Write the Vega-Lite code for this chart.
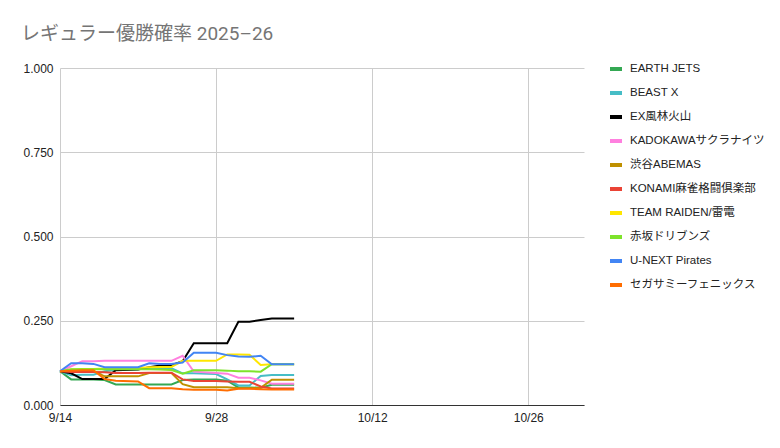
{
  "$schema": "https://vega.github.io/schema/vega-lite/v6.json",
  "width": 524,
  "height": 337,
  "autosize": "none",
  "padding": {"left": 60, "top": 68, "right": 196, "bottom": 43},
  "background": "white",
  "title": {
    "text": "レギュラー優勝確率 2025–26",
    "anchor": "start",
    "frame": "group",
    "dx": -39,
    "offset": 17,
    "fontSize": 19,
    "fontWeight": "normal",
    "font": "Roboto, Noto Sans CJK JP, sans-serif",
    "color": "#757575"
  },
  "data": {
    "format": {"parse": {"d": "date"}},
    "values": [
      {"d": "2025/09/14", "t": "EARTH JETS", "p": 0.100},
      {"d": "2025/09/15", "t": "EARTH JETS", "p": 0.076},
      {"d": "2025/09/16", "t": "EARTH JETS", "p": 0.076},
      {"d": "2025/09/17", "t": "EARTH JETS", "p": 0.076},
      {"d": "2025/09/18", "t": "EARTH JETS", "p": 0.074},
      {"d": "2025/09/19", "t": "EARTH JETS", "p": 0.061},
      {"d": "2025/09/21", "t": "EARTH JETS", "p": 0.061},
      {"d": "2025/09/22", "t": "EARTH JETS", "p": 0.061},
      {"d": "2025/09/23", "t": "EARTH JETS", "p": 0.061},
      {"d": "2025/09/24", "t": "EARTH JETS", "p": 0.061},
      {"d": "2025/09/25", "t": "EARTH JETS", "p": 0.074},
      {"d": "2025/09/26", "t": "EARTH JETS", "p": 0.076},
      {"d": "2025/09/28", "t": "EARTH JETS", "p": 0.076},
      {"d": "2025/09/29", "t": "EARTH JETS", "p": 0.072},
      {"d": "2025/09/30", "t": "EARTH JETS", "p": 0.052},
      {"d": "2025/10/01", "t": "EARTH JETS", "p": 0.052},
      {"d": "2025/10/02", "t": "EARTH JETS", "p": 0.051},
      {"d": "2025/10/03", "t": "EARTH JETS", "p": 0.060},
      {"d": "2025/10/05", "t": "EARTH JETS", "p": 0.060},

      {"d": "2025/09/14", "t": "BEAST X", "p": 0.100},
      {"d": "2025/09/15", "t": "BEAST X", "p": 0.088},
      {"d": "2025/09/16", "t": "BEAST X", "p": 0.090},
      {"d": "2025/09/17", "t": "BEAST X", "p": 0.090},
      {"d": "2025/09/18", "t": "BEAST X", "p": 0.100},
      {"d": "2025/09/19", "t": "BEAST X", "p": 0.104},
      {"d": "2025/09/21", "t": "BEAST X", "p": 0.106},
      {"d": "2025/09/22", "t": "BEAST X", "p": 0.109},
      {"d": "2025/09/23", "t": "BEAST X", "p": 0.109},
      {"d": "2025/09/24", "t": "BEAST X", "p": 0.109},
      {"d": "2025/09/25", "t": "BEAST X", "p": 0.094},
      {"d": "2025/09/26", "t": "BEAST X", "p": 0.094},
      {"d": "2025/09/28", "t": "BEAST X", "p": 0.092},
      {"d": "2025/09/29", "t": "BEAST X", "p": 0.076},
      {"d": "2025/09/30", "t": "BEAST X", "p": 0.058},
      {"d": "2025/10/01", "t": "BEAST X", "p": 0.058},
      {"d": "2025/10/02", "t": "BEAST X", "p": 0.086},
      {"d": "2025/10/03", "t": "BEAST X", "p": 0.089},
      {"d": "2025/10/05", "t": "BEAST X", "p": 0.089},

      {"d": "2025/09/14", "t": "EX風林火山", "p": 0.100},
      {"d": "2025/09/15", "t": "EX風林火山", "p": 0.094},
      {"d": "2025/09/16", "t": "EX風林火山", "p": 0.077},
      {"d": "2025/09/17", "t": "EX風林火山", "p": 0.077},
      {"d": "2025/09/18", "t": "EX風林火山", "p": 0.077},
      {"d": "2025/09/19", "t": "EX風林火山", "p": 0.103},
      {"d": "2025/09/21", "t": "EX風林火山", "p": 0.105},
      {"d": "2025/09/22", "t": "EX風林火山", "p": 0.112},
      {"d": "2025/09/23", "t": "EX風林火山", "p": 0.117},
      {"d": "2025/09/24", "t": "EX風林火山", "p": 0.118},
      {"d": "2025/09/25", "t": "EX風林火山", "p": 0.130},
      {"d": "2025/09/26", "t": "EX風林火山", "p": 0.183},
      {"d": "2025/09/28", "t": "EX風林火山", "p": 0.183},
      {"d": "2025/09/29", "t": "EX風林火山", "p": 0.183},
      {"d": "2025/09/30", "t": "EX風林火山", "p": 0.247},
      {"d": "2025/10/01", "t": "EX風林火山", "p": 0.247},
      {"d": "2025/10/02", "t": "EX風林火山", "p": 0.252},
      {"d": "2025/10/03", "t": "EX風林火山", "p": 0.257},
      {"d": "2025/10/05", "t": "EX風林火山", "p": 0.257},

      {"d": "2025/09/14", "t": "KADOKAWAサクラナイツ", "p": 0.100},
      {"d": "2025/09/15", "t": "KADOKAWAサクラナイツ", "p": 0.115},
      {"d": "2025/09/16", "t": "KADOKAWAサクラナイツ", "p": 0.130},
      {"d": "2025/09/17", "t": "KADOKAWAサクラナイツ", "p": 0.130},
      {"d": "2025/09/18", "t": "KADOKAWAサクラナイツ", "p": 0.131},
      {"d": "2025/09/19", "t": "KADOKAWAサクラナイツ", "p": 0.131},
      {"d": "2025/09/21", "t": "KADOKAWAサクラナイツ", "p": 0.131},
      {"d": "2025/09/22", "t": "KADOKAWAサクラナイツ", "p": 0.131},
      {"d": "2025/09/23", "t": "KADOKAWAサクラナイツ", "p": 0.131},
      {"d": "2025/09/24", "t": "KADOKAWAサクラナイツ", "p": 0.131},
      {"d": "2025/09/25", "t": "KADOKAWAサクラナイツ", "p": 0.146},
      {"d": "2025/09/26", "t": "KADOKAWAサクラナイツ", "p": 0.099},
      {"d": "2025/09/28", "t": "KADOKAWAサクラナイツ", "p": 0.095},
      {"d": "2025/09/29", "t": "KADOKAWAサクラナイツ", "p": 0.093},
      {"d": "2025/09/30", "t": "KADOKAWAサクラナイツ", "p": 0.081},
      {"d": "2025/10/01", "t": "KADOKAWAサクラナイツ", "p": 0.081},
      {"d": "2025/10/02", "t": "KADOKAWAサクラナイツ", "p": 0.073},
      {"d": "2025/10/03", "t": "KADOKAWAサクラナイツ", "p": 0.063},
      {"d": "2025/10/05", "t": "KADOKAWAサクラナイツ", "p": 0.063},

      {"d": "2025/09/14", "t": "渋谷ABEMAS", "p": 0.100},
      {"d": "2025/09/15", "t": "渋谷ABEMAS", "p": 0.101},
      {"d": "2025/09/16", "t": "渋谷ABEMAS", "p": 0.101},
      {"d": "2025/09/17", "t": "渋谷ABEMAS", "p": 0.101},
      {"d": "2025/09/18", "t": "渋谷ABEMAS", "p": 0.085},
      {"d": "2025/09/19", "t": "渋谷ABEMAS", "p": 0.085},
      {"d": "2025/09/21", "t": "渋谷ABEMAS", "p": 0.085},
      {"d": "2025/09/22", "t": "渋谷ABEMAS", "p": 0.095},
      {"d": "2025/09/23", "t": "渋谷ABEMAS", "p": 0.095},
      {"d": "2025/09/24", "t": "渋谷ABEMAS", "p": 0.095},
      {"d": "2025/09/25", "t": "渋谷ABEMAS", "p": 0.062},
      {"d": "2025/09/26", "t": "渋谷ABEMAS", "p": 0.053},
      {"d": "2025/09/28", "t": "渋谷ABEMAS", "p": 0.053},
      {"d": "2025/09/29", "t": "渋谷ABEMAS", "p": 0.053},
      {"d": "2025/09/30", "t": "渋谷ABEMAS", "p": 0.050},
      {"d": "2025/10/01", "t": "渋谷ABEMAS", "p": 0.050},
      {"d": "2025/10/02", "t": "渋谷ABEMAS", "p": 0.051},
      {"d": "2025/10/03", "t": "渋谷ABEMAS", "p": 0.075},
      {"d": "2025/10/05", "t": "渋谷ABEMAS", "p": 0.075},

      {"d": "2025/09/14", "t": "KONAMI麻雀格闘倶楽部", "p": 0.100},
      {"d": "2025/09/15", "t": "KONAMI麻雀格闘倶楽部", "p": 0.098},
      {"d": "2025/09/16", "t": "KONAMI麻雀格闘倶楽部", "p": 0.098},
      {"d": "2025/09/17", "t": "KONAMI麻雀格闘倶楽部", "p": 0.098},
      {"d": "2025/09/18", "t": "KONAMI麻雀格闘倶楽部", "p": 0.097},
      {"d": "2025/09/19", "t": "KONAMI麻雀格闘倶楽部", "p": 0.095},
      {"d": "2025/09/21", "t": "KONAMI麻雀格闘倶楽部", "p": 0.095},
      {"d": "2025/09/22", "t": "KONAMI麻雀格闘倶楽部", "p": 0.096},
      {"d": "2025/09/23", "t": "KONAMI麻雀格闘倶楽部", "p": 0.096},
      {"d": "2025/09/24", "t": "KONAMI麻雀格闘倶楽部", "p": 0.096},
      {"d": "2025/09/25", "t": "KONAMI麻雀格闘倶楽部", "p": 0.076},
      {"d": "2025/09/26", "t": "KONAMI麻雀格闘倶楽部", "p": 0.071},
      {"d": "2025/09/28", "t": "KONAMI麻雀格闘倶楽部", "p": 0.071},
      {"d": "2025/09/29", "t": "KONAMI麻雀格闘倶楽部", "p": 0.070},
      {"d": "2025/09/30", "t": "KONAMI麻雀格闘倶楽部", "p": 0.069},
      {"d": "2025/10/01", "t": "KONAMI麻雀格闘倶楽部", "p": 0.069},
      {"d": "2025/10/02", "t": "KONAMI麻雀格闘倶楽部", "p": 0.055},
      {"d": "2025/10/03", "t": "KONAMI麻雀格闘倶楽部", "p": 0.049},
      {"d": "2025/10/05", "t": "KONAMI麻雀格闘倶楽部", "p": 0.049},

      {"d": "2025/09/14", "t": "TEAM RAIDEN/雷電", "p": 0.100},
      {"d": "2025/09/15", "t": "TEAM RAIDEN/雷電", "p": 0.105},
      {"d": "2025/09/16", "t": "TEAM RAIDEN/雷電", "p": 0.107},
      {"d": "2025/09/17", "t": "TEAM RAIDEN/雷電", "p": 0.107},
      {"d": "2025/09/18", "t": "TEAM RAIDEN/雷電", "p": 0.108},
      {"d": "2025/09/19", "t": "TEAM RAIDEN/雷電", "p": 0.110},
      {"d": "2025/09/21", "t": "TEAM RAIDEN/雷電", "p": 0.110},
      {"d": "2025/09/22", "t": "TEAM RAIDEN/雷電", "p": 0.112},
      {"d": "2025/09/23", "t": "TEAM RAIDEN/雷電", "p": 0.113},
      {"d": "2025/09/24", "t": "TEAM RAIDEN/雷電", "p": 0.113},
      {"d": "2025/09/25", "t": "TEAM RAIDEN/雷電", "p": 0.131},
      {"d": "2025/09/26", "t": "TEAM RAIDEN/雷電", "p": 0.131},
      {"d": "2025/09/28", "t": "TEAM RAIDEN/雷電", "p": 0.131},
      {"d": "2025/09/29", "t": "TEAM RAIDEN/雷電", "p": 0.150},
      {"d": "2025/09/30", "t": "TEAM RAIDEN/雷電", "p": 0.150},
      {"d": "2025/10/01", "t": "TEAM RAIDEN/雷電", "p": 0.149},
      {"d": "2025/10/02", "t": "TEAM RAIDEN/雷電", "p": 0.119},
      {"d": "2025/10/03", "t": "TEAM RAIDEN/雷電", "p": 0.121},
      {"d": "2025/10/05", "t": "TEAM RAIDEN/雷電", "p": 0.121},

      {"d": "2025/09/14", "t": "赤坂ドリブンズ", "p": 0.100},
      {"d": "2025/09/15", "t": "赤坂ドリブンズ", "p": 0.106},
      {"d": "2025/09/16", "t": "赤坂ドリブンズ", "p": 0.106},
      {"d": "2025/09/17", "t": "赤坂ドリブンズ", "p": 0.106},
      {"d": "2025/09/18", "t": "赤坂ドリブンズ", "p": 0.106},
      {"d": "2025/09/19", "t": "赤坂ドリブンズ", "p": 0.106},
      {"d": "2025/09/21", "t": "赤坂ドリブンズ", "p": 0.106},
      {"d": "2025/09/22", "t": "赤坂ドリブンズ", "p": 0.106},
      {"d": "2025/09/23", "t": "赤坂ドリブンズ", "p": 0.105},
      {"d": "2025/09/24", "t": "赤坂ドリブンズ", "p": 0.104},
      {"d": "2025/09/25", "t": "赤坂ドリブンズ", "p": 0.093},
      {"d": "2025/09/26", "t": "赤坂ドリブンズ", "p": 0.103},
      {"d": "2025/09/28", "t": "赤坂ドリブンズ", "p": 0.103},
      {"d": "2025/09/29", "t": "赤坂ドリブンズ", "p": 0.102},
      {"d": "2025/09/30", "t": "赤坂ドリブンズ", "p": 0.100},
      {"d": "2025/10/01", "t": "赤坂ドリブンズ", "p": 0.100},
      {"d": "2025/10/02", "t": "赤坂ドリブンズ", "p": 0.099},
      {"d": "2025/10/03", "t": "赤坂ドリブンズ", "p": 0.121},
      {"d": "2025/10/05", "t": "赤坂ドリブンズ", "p": 0.121},

      {"d": "2025/09/14", "t": "U-NEXT Pirates", "p": 0.100},
      {"d": "2025/09/15", "t": "U-NEXT Pirates", "p": 0.124},
      {"d": "2025/09/16", "t": "U-NEXT Pirates", "p": 0.124},
      {"d": "2025/09/17", "t": "U-NEXT Pirates", "p": 0.122},
      {"d": "2025/09/18", "t": "U-NEXT Pirates", "p": 0.112},
      {"d": "2025/09/19", "t": "U-NEXT Pirates", "p": 0.112},
      {"d": "2025/09/21", "t": "U-NEXT Pirates", "p": 0.112},
      {"d": "2025/09/22", "t": "U-NEXT Pirates", "p": 0.124},
      {"d": "2025/09/23", "t": "U-NEXT Pirates", "p": 0.122},
      {"d": "2025/09/24", "t": "U-NEXT Pirates", "p": 0.122},
      {"d": "2025/09/25", "t": "U-NEXT Pirates", "p": 0.126},
      {"d": "2025/09/26", "t": "U-NEXT Pirates", "p": 0.155},
      {"d": "2025/09/28", "t": "U-NEXT Pirates", "p": 0.155},
      {"d": "2025/09/29", "t": "U-NEXT Pirates", "p": 0.148},
      {"d": "2025/09/30", "t": "U-NEXT Pirates", "p": 0.144},
      {"d": "2025/10/01", "t": "U-NEXT Pirates", "p": 0.143},
      {"d": "2025/10/02", "t": "U-NEXT Pirates", "p": 0.146},
      {"d": "2025/10/03", "t": "U-NEXT Pirates", "p": 0.121},
      {"d": "2025/10/05", "t": "U-NEXT Pirates", "p": 0.121},

      {"d": "2025/09/14", "t": "セガサミーフェニックス", "p": 0.100},
      {"d": "2025/09/15", "t": "セガサミーフェニックス", "p": 0.102},
      {"d": "2025/09/16", "t": "セガサミーフェニックス", "p": 0.103},
      {"d": "2025/09/17", "t": "セガサミーフェニックス", "p": 0.103},
      {"d": "2025/09/18", "t": "セガサミーフェニックス", "p": 0.077},
      {"d": "2025/09/19", "t": "セガサミーフェニックス", "p": 0.072},
      {"d": "2025/09/21", "t": "セガサミーフェニックス", "p": 0.070},
      {"d": "2025/09/22", "t": "セガサミーフェニックス", "p": 0.050},
      {"d": "2025/09/23", "t": "セガサミーフェニックス", "p": 0.050},
      {"d": "2025/09/24", "t": "セガサミーフェニックス", "p": 0.050},
      {"d": "2025/09/25", "t": "セガサミーフェニックス", "p": 0.047},
      {"d": "2025/09/26", "t": "セガサミーフェニックス", "p": 0.045},
      {"d": "2025/09/28", "t": "セガサミーフェニックス", "p": 0.045},
      {"d": "2025/09/29", "t": "セガサミーフェニックス", "p": 0.043},
      {"d": "2025/09/30", "t": "セガサミーフェニックス", "p": 0.048},
      {"d": "2025/10/01", "t": "セガサミーフェニックス", "p": 0.048},
      {"d": "2025/10/02", "t": "セガサミーフェニックス", "p": 0.047},
      {"d": "2025/10/03", "t": "セガサミーフェニックス", "p": 0.046},
      {"d": "2025/10/05", "t": "セガサミーフェニックス", "p": 0.046}
    ]
  },
  "mark": {"type": "line", "strokeWidth": 2, "interpolate": "linear"},
  "encoding": {
    "x": {
      "field": "d",
      "type": "temporal",
      "title": null,
      "scale": {
        "domain": [
          {"year": 2025, "month": 9, "date": 14},
          {"year": 2025, "month": 10, "date": 31}
        ],
        "nice": false
      },
      "axis": {
        "values": [
          {"year": 2025, "month": 9, "date": 14},
          {"year": 2025, "month": 9, "date": 28},
          {"year": 2025, "month": 10, "date": 12},
          {"year": 2025, "month": 10, "date": 26}
        ],
        "format": "%-m/%-d",
        "grid": true,
        "gridColor": "#cccccc",
        "domainColor": "#333333",
        "ticks": false,
        "labelPadding": 7,
        "labelFontSize": 12,
        "labelColor": "#222222",
        "labelFont": "Liberation Sans, sans-serif",
        "labelFlush": false
      }
    },
    "y": {
      "field": "p",
      "type": "quantitative",
      "title": null,
      "scale": {"domain": [0, 1], "nice": false},
      "axis": {
        "values": [0, 0.25, 0.5, 0.75, 1],
        "format": ".3f",
        "grid": true,
        "gridColor": "#cccccc",
        "domain": false,
        "ticks": false,
        "labelPadding": 7,
        "labelFontSize": 12,
        "labelColor": "#222222",
        "labelFont": "Liberation Sans, sans-serif"
      }
    },
    "color": {
      "field": "t",
      "type": "nominal",
      "scale": {
        "domain": ["EARTH JETS", "BEAST X", "EX風林火山", "KADOKAWAサクラナイツ", "渋谷ABEMAS", "KONAMI麻雀格闘倶楽部", "TEAM RAIDEN/雷電", "赤坂ドリブンズ", "U-NEXT Pirates", "セガサミーフェニックス"],
        "range": ["#34a853", "#46bdc6", "#000000", "#ff80df", "#bf9000", "#ea4335", "#ffe600", "#7ee32b", "#4285f4", "#ff6d01"]
      },
      "legend": {
        "title": null,
        "orient": "none",
        "legendX": 548,
        "legendY": -7,
        "padding": 0,
        "symbolType": "stroke",
        "symbolSize": 144,
        "symbolStrokeWidth": 4,
        "rowPadding": 8,
        "labelOffset": 6,
        "labelFontSize": 11.5,
        "labelColor": "#222222",
        "labelFont": "Liberation Sans, Noto Sans CJK JP, sans-serif",
        "labelLimit": 200
      }
    }
  },
  "config": {
    "view": {"stroke": null}
  }
}
